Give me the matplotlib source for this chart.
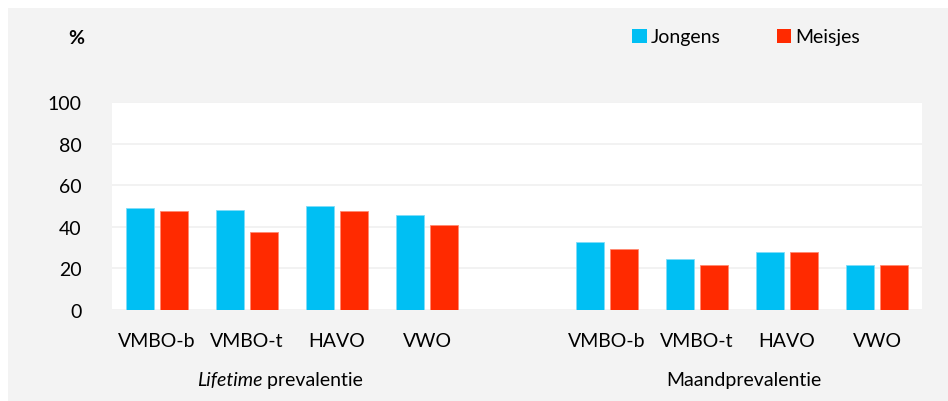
import matplotlib
matplotlib.use("Agg")
import matplotlib.pyplot as plt
from matplotlib.patches import Rectangle, Patch
import numpy as np

plt.rcParams['font.family'] = ['Lato', 'DejaVu Sans']

categories = ["VMBO-b", "VMBO-t", "HAVO", "VWO"]
lifetime_jongens = [49.0, 48.1, 50.2, 45.8]
lifetime_meisjes = [47.4, 37.6, 47.4, 41.0]
maand_jongens = [32.5, 24.4, 27.7, 21.6]
maand_meisjes = [29.3, 21.6, 28.0, 21.6]
group_labels = ["Lifetime prevalentie", "Maandprevalentie"]
series_names = ["Jongens", "Meisjes"]
yticks = [0, 20, 40, 60, 80, 100]

blue = "#00BFF3"
red = "#FF2A00"
fs = 14

W, H = 948, 402
fig = plt.figure(figsize=(W / 100, H / 100), dpi=100)
fig.patch.set_facecolor("white")
fig.add_artist(Rectangle((8 / W, 0), 1 - 8 / W, 1 - 9 / H, transform=fig.transFigure,
                         facecolor="#F3F3F3", edgecolor="none", zorder=-10))

left, right, top, bottom = 112, 922, 103, 311
ax = fig.add_axes([left / W, 1 - bottom / H, (right - left) / W, (bottom - top) / H])
ax.set_facecolor("white")

x_left = np.arange(4)
x_right = np.arange(5, 9)
bw = 0.31
off = 0.19
ax.bar(x_left - off, lifetime_jongens, bw, color=blue, edgecolor="#7fdcf8", linewidth=0.6, zorder=3)
ax.bar(x_left + off, lifetime_meisjes, bw, color=red, edgecolor="#ff8a73", linewidth=0.6, zorder=3)
ax.bar(x_right - off, maand_jongens, bw, color=blue, edgecolor="#7fdcf8", linewidth=0.6, zorder=3)
ax.bar(x_right + off, maand_meisjes, bw, color=red, edgecolor="#ff8a73", linewidth=0.6, zorder=3)

ax.set_xlim(-0.5, 8.5)
ax.set_ylim(0, 100)
ax.set_yticks(yticks)
ax.set_yticklabels([str(t) for t in yticks], fontsize=fs)
ax.yaxis.grid(True, color="#F0F0F0", linewidth=1.2, zorder=0)
ax.set_axisbelow(True)
ax.tick_params(axis="y", length=0, pad=22)
ax.tick_params(axis="x", length=0, pad=16)
ax.set_xticks(list(x_left) + list(x_right))
ax.set_xticklabels(categories + categories, fontsize=fs)
for s in ax.spines.values():
    s.set_visible(False)

# group labels
word1, word2 = group_labels[0].split(" ", 1)
ax.annotate(word1, xy=(1.17, 0), xycoords="data", xytext=(0, -70),
            textcoords="offset pixels", ha="right", va="center", fontsize=fs, style="italic",
            annotation_clip=False)
ax.annotate(" " + word2, xy=(1.17, 0), xycoords="data", xytext=(0, -70),
            textcoords="offset pixels", ha="left", va="center", fontsize=fs,
            annotation_clip=False)
ax.annotate(group_labels[1], xy=(6.52, 0), xycoords="data", xytext=(0, -70),
            textcoords="offset pixels", ha="center", va="center", fontsize=fs,
            annotation_clip=False)

fig.text(76 / W, 1 - 39 / H, "%", ha="center", va="center", fontsize=fs, fontweight="bold")

handles = [Patch(facecolor=blue, edgecolor="none"), Patch(facecolor=red, edgecolor="none")]
leg = fig.legend(handles, series_names, loc="center left", bbox_to_anchor=(632 / W, 1 - 38 / H),
                 ncol=2, frameon=False, fontsize=fs, handlelength=0.75, handleheight=0.75,
                 handletextpad=0.2, columnspacing=2.9, borderaxespad=0, borderpad=0)

fig.savefig("out.png", dpi=100, facecolor=fig.get_facecolor())
